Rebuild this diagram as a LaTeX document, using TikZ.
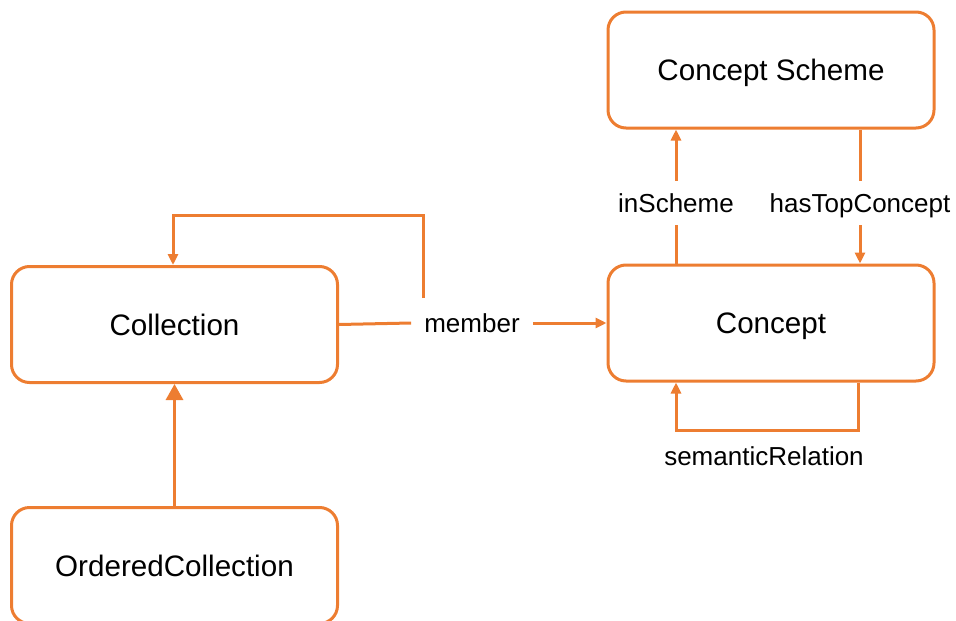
\documentclass[tikz,border=0pt]{standalone}
\usepackage{fontspec}
\setmainfont{Liberation Sans}
\usetikzlibrary{arrows.meta}
\definecolor{acc}{HTML}{ED7D31}
\begin{document}
\begin{tikzpicture}[x=1pt,y=-1pt,
 box/.style={draw=acc, line width=3pt, rounded corners=18pt, minimum width=326pt, minimum height=116pt, font=\fontsize{29.6}{34}\selectfont, inner sep=0pt, text height=21pt, text depth=0pt},
 conn/.style={draw=acc, line width=3pt, -{Triangle[length=11pt,width=10pt]}},
 bigconn/.style={draw=acc, line width=3pt, -{Triangle[length=16pt,width=17pt]}},
 plain/.style={draw=acc, line width=3pt},
 lbl/.style={font=\fontsize{26}{30}\selectfont, text height=19pt, text depth=0pt, inner xsep=6pt, inner ysep=12.5pt, fill=white}]
\useasboundingbox (0,0) rectangle (956,621);

\node[box] (scheme) at (771,70) {Concept Scheme};
\node[box] (concept) at (771,323) {Concept};
\node[box] (coll) at (174.5,324.5) {Collection};
\node[box] (ordered) at (174.5,565.5) {OrderedCollection};

% member
\node[lbl, fill=none, inner xsep=13pt] (member) at (472,323) {member};
\coordinate (loopstart) at (423,298);
\draw[plain] (coll.east) -- (member.west);
\draw[conn] (member.east) -- (concept.west);
\draw[conn] (loopstart) -- (423,215) -| (coll.north -| 173,0);

% inScheme / hasTopConcept
\draw[conn] (concept.north -| 676,0) -- (scheme.south -| 676,0)
  node[lbl, pos=0.45] (inscheme) {inScheme};
\draw[conn] (scheme.south -| 860,0) -- (concept.north -| 860,0)
  node[lbl, pos=0.55] (hastop) {hasTopConcept};

% semanticRelation
\draw[conn] (concept.south -| 858,0) -- (858,430) -| (concept.south -| 676,0);
\node[font=\fontsize{26}{30}\selectfont] (semrel) at (764,456) {semanticRelation};

% OrderedCollection -> Collection
\draw[bigconn] (ordered.north) -- (coll.south);
\end{tikzpicture}
\end{document}
